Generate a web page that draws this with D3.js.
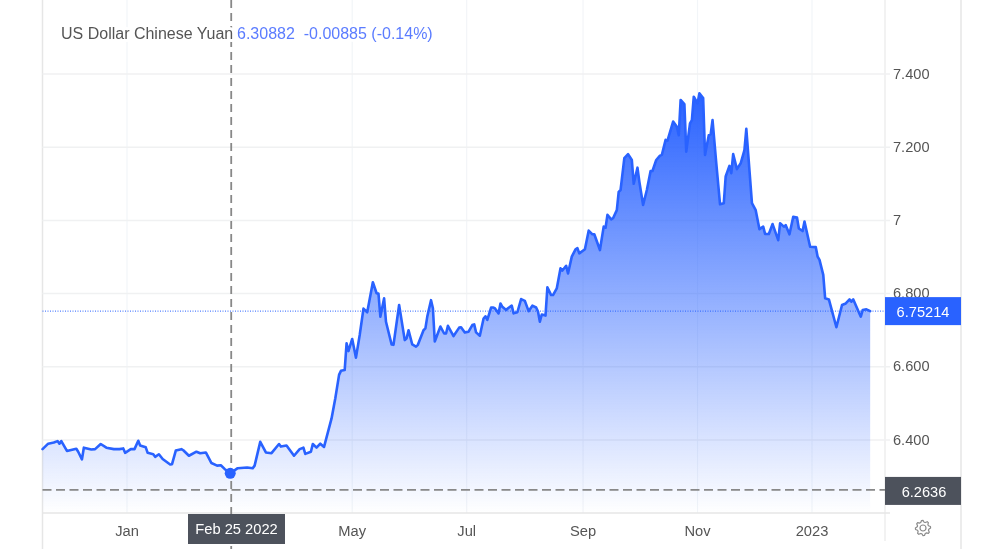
<!DOCTYPE html>
<html><head><meta charset="utf-8">
<script src="https://cdn.jsdelivr.net/npm/d3@7/dist/d3.min.js"></script>
<style>
html,body{margin:0;padding:0;background:#fff;overflow:hidden}
svg{display:block;filter:blur(0.45px)}
text{font-family:"Liberation Sans",Arial,sans-serif}
</style></head><body>
<svg id="c" width="1000" height="549"></svg>
<script>
// days since 1 Jan 2022
const dayOffsets = [-45,-42,-39,-37,-36,-35,-32,-27,-26,-24,-23,-19,-17,-14,-11,-7,-4,-2,-1,2,4,6,7,10,11,14,15,17,19,23,24,26,29,30,33,37,39,42,45,48,50,52,55,59,64,67,68,71,74,77,81,82,85,89,92,94,95,98,99,101,103,105,109,111,113,114,116,117,118,120,122,124,126,128,131,133,134,135,137,138,141,142,145,148,149,150,152,154,155,158,159,160,162,163,164,167,169,170,171,174,177,178,180,182,184,185,186,188,190,191,192,194,195,196,198,199,200,202,203,205,206,208,210,212,214,216,218,219,220,221,223,224,226,227,229,231,232,234,235,237,239,240,241,244,246,248,249,252,254,255,256,258,259,261,262,263,265,267,269,270,272,273,275,277,279,280,282,284,285,287,288,291,293,294,295,297,298,300,301,302,304,305,307,308,310,311,312,314,316,318,319,321,322,323,325,327,329,330,333,335,337,339,340,342,344,347,348,350,351,353,355,357,358,360,361,362,364,367,368,369,371,372,374,378,381,383,385,386,387,391,392,394,396];
const rates = [6.375,6.390,6.393,6.397,6.390,6.397,6.370,6.376,6.368,6.347,6.379,6.374,6.375,6.389,6.379,6.375,6.375,6.377,6.365,6.375,6.375,6.398,6.385,6.380,6.365,6.361,6.354,6.361,6.348,6.333,6.334,6.371,6.375,6.372,6.357,6.368,6.364,6.366,6.337,6.330,6.331,6.321,6.309,6.323,6.325,6.323,6.330,6.395,6.366,6.364,6.389,6.382,6.385,6.357,6.375,6.379,6.362,6.368,6.389,6.379,6.390,6.381,6.459,6.514,6.578,6.589,6.591,6.664,6.643,6.676,6.625,6.687,6.759,6.749,6.831,6.801,6.800,6.737,6.787,6.723,6.661,6.660,6.769,6.673,6.678,6.700,6.661,6.655,6.660,6.700,6.705,6.737,6.782,6.760,6.669,6.710,6.691,6.691,6.712,6.684,6.707,6.708,6.694,6.696,6.714,6.716,6.694,6.685,6.732,6.738,6.728,6.762,6.762,6.760,6.746,6.773,6.764,6.755,6.760,6.767,6.746,6.749,6.785,6.780,6.752,6.767,6.762,6.751,6.723,6.743,6.740,6.817,6.796,6.796,6.814,6.869,6.863,6.876,6.855,6.901,6.921,6.924,6.910,6.921,6.972,6.962,6.962,6.919,6.983,6.980,7.015,7.003,7.006,7.028,7.078,7.083,7.170,7.181,7.165,7.100,7.144,7.106,7.042,7.083,7.135,7.135,7.165,7.177,7.179,7.220,7.218,7.270,7.256,7.233,7.329,7.318,7.188,7.265,7.274,7.338,7.320,7.347,7.334,7.179,7.233,7.235,7.274,7.156,7.044,7.047,7.120,7.149,7.129,7.181,7.140,7.156,7.192,7.250,7.047,7.028,6.976,6.983,6.963,6.963,6.990,6.946,6.992,6.983,6.987,6.962,7.010,7.008,6.978,6.971,6.997,6.974,6.928,6.927,6.901,6.892,6.851,6.787,6.784,6.708,6.769,6.773,6.784,6.778,6.784,6.737,6.755,6.757,6.752];
const yTicks = [6.4,6.6,6.8,7,7.2,7.4];
const yTickLabels = ["6.400","6.600","6.800","7","7.200","7.400"];
const xTickDates = ["2022-01-01","2022-05-01","2022-07-01","2022-09-01","2022-11-01","2023-01-01"];
const xTickLabels = ["Jan","May","Jul","Sep","Nov","2023"];
const titleName = "US Dollar Chinese Yuan";
const titleValues = "6.30882  -0.00885 (-0.14%)";
const lastValue = 6.75214, lastLabel = "6.75214";
const lowValue = 6.2636, lowLabel = "6.2636";
const hoverDate = "2022-02-25", hoverValue = 6.30882, hoverLabel = "Feb 25 2022";

const parse = d3.utcParse("%Y-%m-%d");
const base = parse("2022-01-01");
const series = dayOffsets.map((d,i)=>({date:d3.utcDay.offset(base,d),v:rates[i]}));
const L=42.5,R=885,B=513,W=961;
const x = d3.scaleUtc().domain([parse("2022-01-01"),parse("2023-01-01")]).range([127,812]);
const y = d3.scaleLinear().domain([6.4,7.4]).range([440,74]);
const svg = d3.select("#c");
const BLUE="#2962ff", GRID="#f0f1f2", TXT="#555";

const defs=svg.append("defs");
const g=defs.append("linearGradient").attr("id","fill").attr("x1",0).attr("x2",0).attr("y1",0).attr("y2",1)
  .attr("gradientUnits","userSpaceOnUse").attr("x2",0).attr("y1",y(7.347)).attr("y2",B);
g.append("stop").attr("offset",0).attr("stop-color",BLUE).attr("stop-opacity",1);
g.append("stop").attr("offset",1).attr("stop-color",BLUE).attr("stop-opacity",0);

// frame
svg.append("line").attr("x1",L).attr("x2",L).attr("y1",0).attr("y2",549).attr("stroke","#e6e6e6").attr("stroke-width",1.5);
svg.append("line").attr("x1",W).attr("x2",W).attr("y1",0).attr("y2",549).attr("stroke","#e6e6e6").attr("stroke-width",1.5);
svg.append("line").attr("x1",R).attr("x2",R).attr("y1",0).attr("y2",541).attr("stroke","#eeeeee").attr("stroke-width",1.5);

// vertical grid + x axis
const xDates=xTickDates.map(parse);
const xAxis=svg.append("g").attr("transform",`translate(0,${B})`)
  .call(d3.axisBottom(x).tickValues(xDates).tickFormat((d,i)=>xTickLabels[i]).tickSize(0).tickPadding(13));
xAxis.select(".domain").remove();
xAxis.selectAll("text").attr("font-size",14.7).attr("fill",TXT).attr("dx",-0.5).style("font-family",'"Liberation Sans",Arial,sans-serif');
svg.append("g").selectAll("line").data(xDates).join("line")
  .attr("x1",d=>x(d)).attr("x2",d=>x(d)).attr("y1",0).attr("y2",B).attr("stroke","#f2f5f8").attr("stroke-width",1.2);

// horizontal grid + y axis
svg.append("g").selectAll("line").data(yTicks).join("line")
  .attr("x1",L).attr("x2",890).attr("y1",d=>y(d)).attr("y2",d=>y(d)).attr("stroke",GRID).attr("stroke-width",1.5);
svg.append("line").attr("x1",L).attr("x2",890).attr("y1",B).attr("y2",B).attr("stroke","#e6e6e6").attr("stroke-width",1.5);
const yAxis=svg.append("g").attr("transform","translate(893,-0.5)")
  .call(d3.axisRight(y).tickValues(yTicks).tickFormat((d,i)=>yTickLabels[i]).tickSize(0).tickPadding(0));
yAxis.select(".domain").remove();
yAxis.selectAll("text").attr("font-size",14.6).attr("fill",TXT).style("font-family",'"Liberation Sans",Arial,sans-serif');

// area + line
svg.append("path").datum(series).attr("fill","url(#fill)")
  .attr("d",d3.area().x(d=>x(d.date)).y0(B).y1(d=>y(d.v)));
svg.append("line").attr("x1",L).attr("x2",R).attr("y1",y(lastValue)).attr("y2",y(lastValue))
  .attr("stroke",BLUE).attr("stroke-width",1).attr("stroke-dasharray","1 1.5");
svg.append("path").datum(series).attr("fill","none").attr("stroke",BLUE).attr("stroke-width",2.6).attr("stroke-linejoin","round").attr("stroke-linecap","round")
  .attr("d",d3.line().x(d=>x(d.date)).y(d=>y(d.v)));

// low line, crosshair
svg.append("line").attr("x1",L).attr("x2",R).attr("y1",y(lowValue)).attr("y2",y(lowValue))
  .attr("stroke","#888").attr("stroke-width",1.8).attr("stroke-dasharray","9 4.5");
const hx=x(parse(hoverDate));
svg.append("line").attr("x1",hx+1).attr("x2",hx+1).attr("y1",0).attr("y2",549)
  .attr("stroke","#888").attr("stroke-width",1.8).attr("stroke-dasharray","8 5");
svg.append("circle").attr("cx",hx).attr("cy",y(hoverValue)).attr("r",5.5).attr("fill",BLUE);

// right-hand labels
function tag(v,label,fill,tx){
  const cy=y(v)+(v===lastValue?0:1);
  svg.append("rect").attr("x",R).attr("y",cy-14).attr("width",W-R).attr("height",28).attr("fill",fill);
  svg.append("text").attr("x",tx).attr("y",cy+0.5).attr("dy","0.35em").attr("text-anchor","middle").attr("fill","#fff").attr("font-size",14.6).text(label);
}
tag(lastValue,lastLabel,BLUE,923);
tag(lowValue,lowLabel,"#4d525c",924);

// date tag
svg.append("rect").attr("x",188).attr("y",514).attr("width",97).attr("height",30).attr("fill","#4d525c");
svg.append("text").attr("x",236.5).attr("y",529).attr("dy","0.35em").attr("text-anchor","middle").attr("fill","#fff").attr("font-size",14.7).text(hoverLabel);

// title with white halo
const t=svg.append("text").attr("x",61).attr("y",39).attr("font-size",16)
  .attr("paint-order","stroke").attr("stroke","#fff").attr("stroke-width",6).attr("stroke-linejoin","round");
t.append("tspan").attr("fill",TXT).text(titleName);
t.append("tspan").attr("x",237).attr("fill","#5b7cff").attr("xml:space","preserve").style("white-space","pre").text(titleValues);

// gear icon
const gear=svg.append("g").attr("transform","translate(923,528)");
const teeth=8, outer=7.6, inner=5.9;
const pts=d3.range(teeth*4).map(i=>{
  const a=i/(teeth*4)*2*Math.PI-Math.PI/8+Math.PI/16;
  const r=(i%4<2)?outer:inner;
  return [a,r];
});
gear.append("path").attr("d",d3.lineRadial().angle(d=>d[0]).radius(d=>d[1]).curve(d3.curveLinearClosed)(pts))
  .attr("fill","none").attr("stroke","#8a8a8a").attr("stroke-width",1.2).attr("stroke-linejoin","round");
gear.append("circle").attr("r",3).attr("fill","none").attr("stroke","#8a8a8a").attr("stroke-width",1.2);
</script>
</body></html>
